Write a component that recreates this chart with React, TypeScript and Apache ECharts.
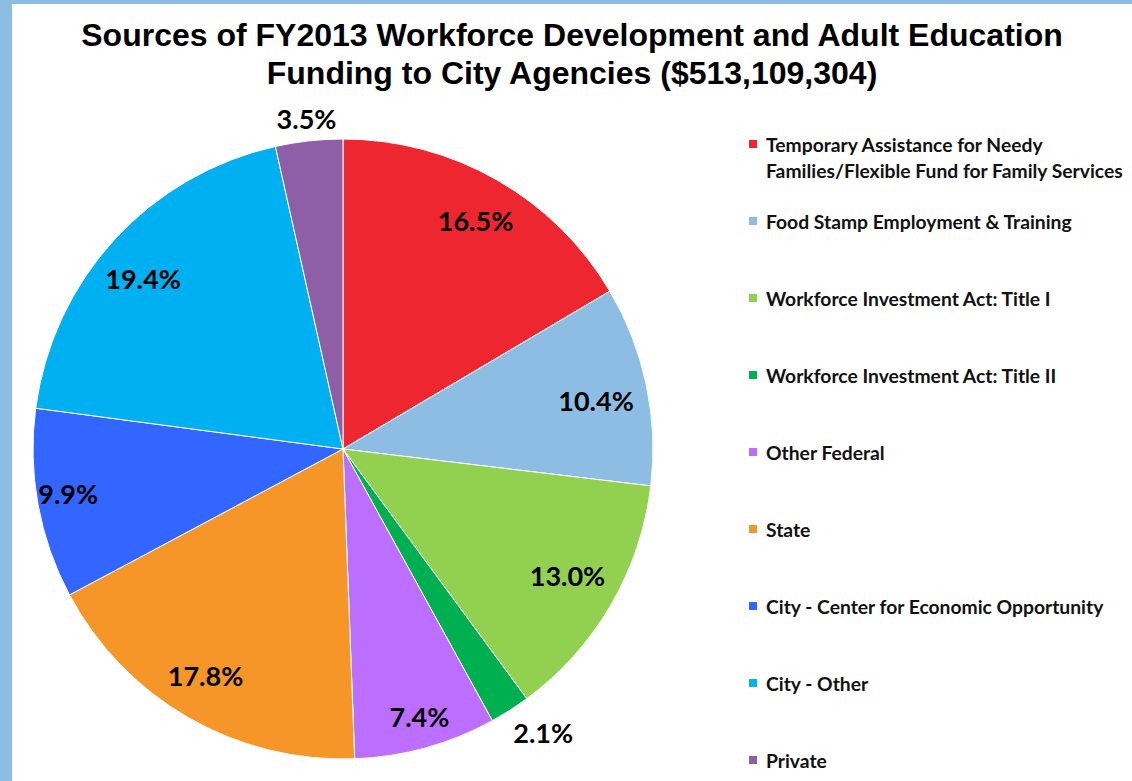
import React, { useEffect, useRef } from "react";
import * as echarts from "echarts";

const titleLines = [
  "Sources of FY2013 Workforce Development and Adult Education",
  "Funding to City Agencies ($513,109,304)",
];

const categories = [
  "Temporary Assistance for Needy Families/Flexible Fund for Family Services",
  "Food Stamp Employment & Training",
  "Workforce Investment Act: Title I",
  "Workforce Investment Act: Title II",
  "Other Federal",
  "State",
  "City - Center for Economic Opportunity",
  "City - Other",
  "Private",
];

const shares = [16.5, 10.4, 13.0, 2.1, 7.4, 17.8, 9.9, 19.4, 3.5];

const colors = [
  "#ED262F",
  "#8EBDE3",
  "#92D050",
  "#00B050",
  "#BC6EFF",
  "#F79628",
  "#3366FF",
  "#00B0F0",
  "#8E5FA7",
];

const W = 1132;
const H = 781;
const CX = 343;
const CY = 449;
const R = 310;

// radial factor (relative to the default inside position at R/2) and extra shift
const labelFactor = [1.68, 1.63, 1.63, 2.13, 1.765, 1.67, 1.8, 1.656, 2.105];
const labelShift: [number, number][] = [
  [1, 2], [1, 5], [2, -3], [19, 0], [2, -1], [-6, -2], [5, -6], [-7, 6], [0, 0],
];

export default function App() {
  const ref = useRef<HTMLDivElement>(null);

  useEffect(() => {
    if (!ref.current) return;
    const chart = echarts.init(ref.current, null, { renderer: "svg" });
    const data = categories.map((name, i) => ({
      name,
      value: shares[i],
      itemStyle: { color: colors[i] },
    }));
    const legendText = {
      fontFamily: "Lato",
      fontWeight: "bold" as const,
      fontSize: 19.3,
      color: "#111",
      lineHeight: 26,
      padding: [0, 0, 0, 3],
    };
    chart.setOption({
      animation: false,
      backgroundColor: "#ffffff",
      title: {
        text: titleLines.join("\n"),
        left: 567,
        textAlign: "center",
        top: 11,
        textStyle: {
          fontFamily: "Liberation Sans",
          fontWeight: "bold",
          fontSize: 32,
          lineHeight: 38,
          color: "#000",
        },
      },
      graphic: [
        { type: "rect", shape: { x: 0, y: 0, width: 12, height: H }, style: { fill: "#8EBDE3" }, silent: true },
        { type: "rect", shape: { x: 0, y: 0, width: W, height: 4 }, style: { fill: "#8EBDE3" }, silent: true },
      ],
      legend: [
        {
          data: [categories[0]],
          orient: "vertical",
          left: 742,
          top: 100,
          icon: "rect",
          itemWidth: 10,
          itemHeight: 10,
          selectedMode: false,
          formatter: (n: string) => "\n" + n.replace("Needy ", "Needy\n"),
          textStyle: legendText,
        },
        {
          data: categories.slice(1),
          orient: "vertical",
          left: 742,
          top: 203,
          height: 640,
          icon: "rect",
          itemWidth: 10,
          itemHeight: 10,
          itemGap: 51,
          selectedMode: false,
          textStyle: legendText,
        },
      ],
      series: [
        {
          type: "pie",
          center: [CX, CY],
          radius: R,
          startAngle: 90,
          clockwise: true,
          data,
          itemStyle: { borderColor: "#ffffff", borderWidth: 1 },
          label: {
            show: true,
            position: "inside",
            formatter: (p: any) => Number(p.value).toFixed(1) + "%",
            fontFamily: "Lato",
            fontWeight: "bold",
            fontSize: 27,
            color: "#000",
          },
          labelLine: { show: false },
          labelLayout: (p: any) => {
            const i = p.dataIndex;
            const lx = p.labelRect.x + p.labelRect.width / 2;
            const ly = p.labelRect.y + p.labelRect.height / 2;
            const k = labelFactor[i];
            return {
              x: CX + (lx - CX) * k + labelShift[i][0],
              y: CY + (ly - CY) * k + labelShift[i][1],
            };
          },
          emphasis: { disabled: true },
        },
      ],
    });
    return () => chart.dispose();
  }, []);

  return (
    <div
      ref={ref}
      style={{ position: "fixed", left: 0, top: 0, width: W, height: H }}
    />
  );
}
